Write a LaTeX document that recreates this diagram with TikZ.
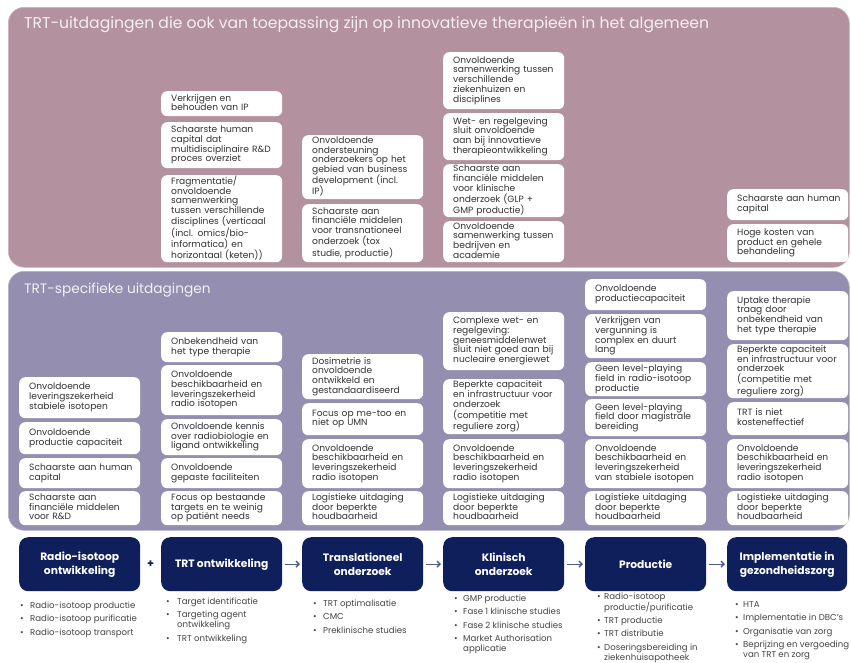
\documentclass[tikz,border=0pt]{standalone}
\usepackage{fontspec}
\setmainfont{Poppins}
\usetikzlibrary{calc,arrows.meta}
\definecolor{mauve}{HTML}{B4919F}
\definecolor{lav}{HTML}{948FB0}
\definecolor{navy}{HTML}{0E1F5C}
\definecolor{txt}{HTML}{333333}
\definecolor{ltxt}{HTML}{444444}
\definecolor{arrowc}{HTML}{4B5A86}
\definecolor{ttlc}{HTML}{F4EFF2}
\newcommand\bxf{\fontsize{9.1}{9.3}\selectfont}
\newcommand\lsf{\fontsize{8.6}{10}\selectfont}
\newcommand\bt[1]{\begin{tabular}{@{}l@{}}#1\end{tabular}}
\newcommand\wb[5]{\node[wbox, minimum height=#4-#3] (#1) at (#2,#3) {\bt{#5}};}
\newcommand\blst[2]{\begin{tabular}{@{}p{#1}@{}l@{}}#2\end{tabular}}
\tikzset{
  panel/.style={rounded corners=16pt, anchor=north west, inner sep=0pt, line width=0.6pt},
  ttl/.style={anchor=west, inner sep=0pt, text=ttlc},
  wbox/.style={fill=white, rounded corners=6pt, anchor=north west, minimum width=121pt,
    text width=101pt, inner xsep=10pt, inner ysep=0pt, align=left, font=\bxf, text=txt},
  nbox/.style={fill=navy, rounded corners=9pt, anchor=north west, minimum width=121pt,
    minimum height=54pt, inner sep=0pt, align=center, text=white,
    font=\bfseries\fontsize{10.7}{14}\selectfont},
  blist/.style={anchor=north west, inner sep=0pt, font=\lsf, text=ltxt},
  arr/.style={draw=arrowc, line width=1.4pt, -{Straight Barb[length=3pt,width=6pt]},
    shorten <=3pt, shorten >=2pt}
}
\begin{document}
\begin{tikzpicture}[x=1pt,y=-1pt]
\useasboundingbox (0,0) rectangle (851,662);
% panels
\node[panel, fill=mauve, draw=mauve!70!white, minimum width=841pt, minimum height=260pt] (p1) at (8,7) {};
\node[panel, fill=lav, draw=lav!70!white, minimum width=841pt, minimum height=259pt] (p2) at (8,271) {};
\node[ttl, font=\fontsize{15.6}{17}\selectfont] (t1) at (24,25) {TRT-uitdagingen die ook van toepassing zijn op innovatieve therapieën in het algemeen};
\node[ttl, font=\fontsize{13.7}{15}\selectfont] (t2) at (24,290) {TRT-specifieke uitdagingen};
% top panel boxes
\wb{ta1}{161}{91}{116}{Verkrijgen en\\behouden van IP}
\wb{ta2}{161}{122}{168}{Schaarste human\\capital dat\\multidisciplinaire R\&D\\proces overziet}
\wb{ta3}{161}{175}{262}{Fragmentatie/\\onvoldoende\\samenwerking\\tussen verschillende\\disciplines (verticaal\\(incl. omics/bio-\\informatica) en\\horizontaal (keten))}
\wb{tb1}{302}{135}{199}{Onvoldoende\\ondersteuning\\onderzoekers op het\\gebied van business\\development (incl.\\IP)}
\wb{tb2}{302}{204}{262}{Schaarste aan\\financiële middelen\\voor transnationeel\\onderzoek (tox\\studie, productie)}
\wb{tc1}{443}{52}{109}{Onvoldoende\\samenwerking tussen\\verschillende\\ziekenhuizen en\\disciplines}
\wb{tc2}{443}{113}{160}{Wet- en regelgeving\\sluit onvoldoende\\aan bij innovatieve\\therapieontwikkeling}
\wb{tc3}{443}{164}{217}{Schaarste aan\\financiële middelen\\voor klinische\\onderzoek (GLP +\\GMP productie)}
\wb{tc4}{443}{221}{262}{Onvoldoende\\samenwerking tussen\\bedrijven en\\academie}
\wb{td1}{727}{189}{220}{Schaarste aan human\\capital}
\wb{td2}{727}{224}{262}{Hoge kosten van\\product en gehele\\behandeling}
% lower panel boxes
\wb{sa1}{19}{377}{418}{Onvoldoende\\leveringszekerheid\\stabiele isotopen}
\wb{sa2}{19}{422}{454}{Onvoldoende\\productie capaciteit}
\wb{sa3}{19}{458}{488}{Schaarste aan human\\capital}
\wb{sa4}{19}{491}{525}{Schaarste aan\\financiële middelen\\voor R\&D}
\wb{sb1}{161}{332}{362}{Onbekendheid van\\het type therapie}
\wb{sb2}{161}{365}{415}{Onvoldoende\\beschikbaarheid en\\leveringszekerheid\\radio isotopen}
\wb{sb3}{161}{419}{455}{Onvoldoende kennis\\over radiobiologie en\\ligand ontwikkeling}
\wb{sb4}{161}{458}{488}{Onvoldoende\\gepaste faciliteiten}
\wb{sb5}{161}{491}{525}{Focus op bestaande\\targets en te weinig\\op patiënt needs}
\wb{sc1}{302}{354}{399}{Dosimetrie is\\onvoldoende\\ontwikkeld en\\gestandaardiseerd}
\wb{sc2}{302}{403}{435}{Focus op me-too en\\niet op UMN}
\wb{sc3}{302}{439}{488}{Onvoldoende\\beschikbaarheid en\\leveringszekerheid\\radio isotopen}
\wb{sc4}{302}{491}{525}{Logistieke uitdaging\\door beperkte\\houdbaarheid}
\wb{sd1}{443}{312}{370}{Complexe wet- en\\regelgeving:\\geneesmiddelenwet\\sluit niet goed aan bij\\nucleaire energiewet}
\wb{sd2}{443}{379}{434}{Beperkte capaciteit\\en infrastructuur voor\\onderzoek\\(competitie met\\reguliere zorg)}
\wb{sd3}{443}{439}{488}{Onvoldoende\\beschikbaarheid en\\leveringszekerheid\\radio isotopen}
\wb{sd4}{443}{491}{525}{Logistieke uitdaging\\door beperkte\\houdbaarheid}
\wb{se1}{585}{279}{310}{Onvoldoende\\productiecapaciteit}
\wb{se2}{585}{314}{358}{Verkrijgen van\\vergunning is\\complex en duurt\\lang}
\wb{se3}{585}{362}{396}{Geen level-playing\\field in radio-isotoop\\productie}
\wb{se4}{585}{399}{436}{Geen level-playing\\field door magistrale\\bereiding}
\wb{se5}{585}{439}{488}{Onvoldoende\\beschikbaarheid en\\leveringszekerheid\\van stabiele isotopen}
\wb{se6}{585}{491}{525}{Logistieke uitdaging\\door beperkte\\houdbaarheid}
\wb{sf1}{727}{291}{340}{Uptake therapie\\traag door\\onbekendheid van\\het type therapie}
\wb{sf2}{727}{344}{398}{Beperkte capaciteit\\en infrastructuur voor\\onderzoek\\(competitie met\\reguliere zorg)}
\wb{sf3}{727}{402}{435}{TRT is niet\\kosteneffectief}
\wb{sf4}{727}{439}{488}{Onvoldoende\\beschikbaarheid en\\leveringszekerheid\\radio isotopen}
\wb{sf5}{727}{491}{525}{Logistieke uitdaging\\door beperkte\\houdbaarheid}
% navy process boxes
\node[nbox] (n1) at (19,537) {Radio-isotoop\\ontwikkeling};
\node[nbox] (n2) at (161,537) {TRT ontwikkeling};
\node[nbox] (n3) at (302,537) {Translationeel\\onderzoek};
\node[nbox] (n4) at (443,537) {Klinisch\\onderzoek};
\node[nbox] (n5) at (585,537) {Productie};
\node[nbox, minimum width=120pt] (n6) at (727,537) {Implementatie in\\gezondheidszorg};
\node[text=navy, font=\bfseries\fontsize{11}{12}\selectfont, inner sep=0pt] (plus) at ($(n1.east)!0.5!(n2.west)$) {+};
\draw[arr] (n2) -- (n3);
\draw[arr] (n3) -- (n4);
\draw[arr] (n4) -- (n5);
\draw[arr] (n5) -- (n6);
% bullet lists
\node[blist] (b1) at (20,601) {\blst{10pt}{\textbullet & Radio-isotoop productie\\[3.5pt]
\textbullet & Radio-isotoop purificatie\\[3.5pt]
\textbullet & Radio-isotoop transport}};
\node[blist] (b2) at (166,597) {\blst{11pt}{\textbullet & Target identificatie\\[3.5pt]
\textbullet & Targeting agent\\ & ontwikkeling\\[3.5pt]
\textbullet & TRT ontwikkeling}};
\node[blist] (b3) at (313,599) {\blst{10pt}{\textbullet & TRT optimalisatie\\[3.5pt]
\textbullet & CMC\\[3.5pt]
\textbullet & Preklinische studies}};
\node[blist] (b4) at (454,594) {\blst{9pt}{\textbullet & GMP productie\\[3.5pt]
\textbullet & Fase 1 klinische studies\\[3.5pt]
\textbullet & Fase 2 klinische studies\\[3.5pt]
\textbullet & Market Authorisation\\ & applicatie}};
\node[blist] (b5) at (597,592) {\blst{7pt}{\textbullet & Radio-isotoop\\ & productie/purificatie\\[3.3pt]
\textbullet & TRT productie\\[3.3pt]
\textbullet & TRT distributie\\[3.3pt]
\textbullet & Doseringsbereiding in\\ & ziekenhuisapotheek}};
\node[blist] (b6) at (735,600) {\blst{8pt}{\textbullet & HTA\\[3.5pt]
\textbullet & Implementatie in DBC's\\[3.5pt]
\textbullet & Organisatie van zorg\\[3.5pt]
\textbullet & Beprijzing en vergoeding\\ & van TRT en zorg}};
\end{tikzpicture}
\end{document}
